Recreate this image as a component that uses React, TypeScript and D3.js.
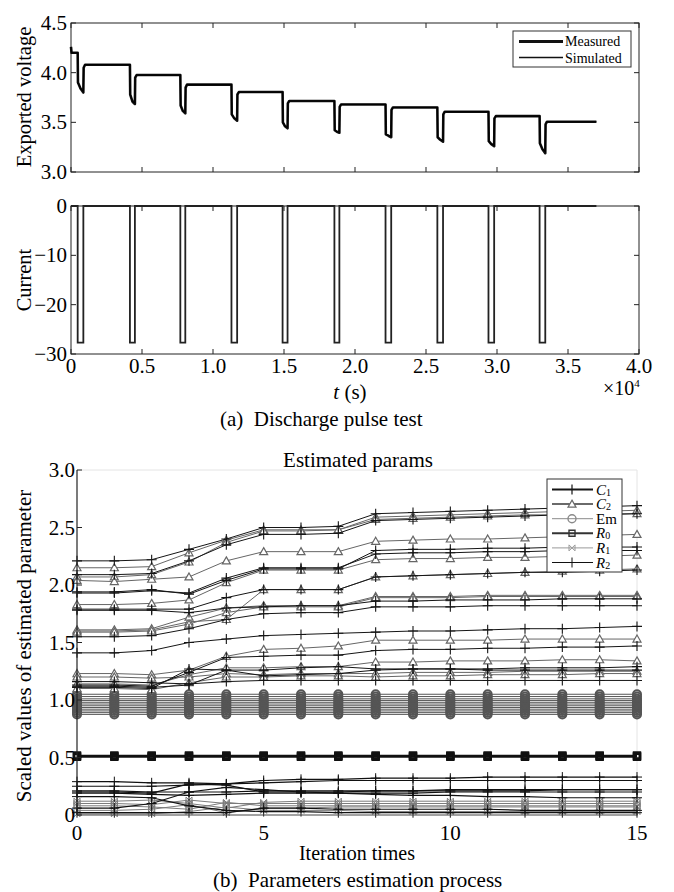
import * as d3 from 'd3';
import React, { useEffect, useRef } from 'react';

// (a) discharge pulse test -- time in units of 10^4 s
const pulseStart = [0.047, 0.415, 0.77, 1.13, 1.49, 1.855, 2.215, 2.58, 2.94, 3.30];
const pulseEnd = [0.087, 0.45, 0.805, 1.17, 1.525, 1.89, 2.255, 2.62, 2.98, 3.34];
const restV = [4.20, 4.08, 3.976, 3.88, 3.805, 3.715, 3.68, 3.65, 3.607, 3.563, 3.506];
const dropV = [3.90, 3.78, 3.67, 3.58, 3.50, 3.42, 3.38, 3.35, 3.31, 3.29];
const midV = [3.84, 3.71, 3.615, 3.54, 3.46, 3.405, 3.365, 3.325, 3.28, 3.23];
const minV = [3.80, 3.685, 3.59, 3.516, 3.44, 3.395, 3.35, 3.305, 3.26, 3.19];
const simMinV = [3.81, 3.695, 3.60, 3.525, 3.45, 3.40, 3.36, 3.315, 3.27, 3.205];
const recoverV = [4.05, 3.95, 3.85, 3.78, 3.69, 3.655, 3.625, 3.58, 3.54, 3.48];
const startSpike = 4.26;
const pulseCurrent = -27.7;
const testEnd = 3.7;
const timeTicks = [0, 0.5, 1.0, 1.5, 2.0, 2.5, 3.0, 3.5, 4.0];
const voltTicks = [3.0, 3.5, 4.0, 4.5];
const currentTicks = [0, -10, -20, -30];

// (b) parameters estimation process
const iterations = [0, 1, 2, 3, 4, 5, 6, 7, 8, 9, 10, 11, 12, 13, 14, 15];
const iterTicks = [0, 5, 10, 15];
const paramTicks = [0, 0.5, 1.0, 1.5, 2.0, 2.5, 3.0];

const c1Series = [
  [2.21, 2.21, 2.22, 2.31, 2.40, 2.50, 2.50, 2.51, 2.62, 2.63, 2.64, 2.65, 2.66, 2.67, 2.68, 2.69],
  [2.09, 2.09, 2.10, 2.21, 2.35, 2.44, 2.44, 2.45, 2.56, 2.57, 2.58, 2.59, 2.60, 2.61, 2.61, 2.62],
  [1.94, 1.94, 1.96, 1.92, 2.04, 2.14, 2.14, 2.14, 2.30, 2.31, 2.31, 2.32, 2.32, 2.33, 2.33, 2.33],
  [1.93, 1.93, 1.95, 1.93, 2.06, 2.15, 2.15, 2.15, 2.27, 2.28, 2.28, 2.29, 2.29, 2.30, 2.30, 2.30],
  [1.79, 1.79, 1.79, 1.79, 1.89, 1.96, 1.96, 1.96, 2.07, 2.08, 2.09, 2.10, 2.11, 2.11, 2.12, 2.13],
  [1.78, 1.78, 1.78, 1.76, 1.80, 1.81, 1.82, 1.82, 1.86, 1.86, 1.87, 1.87, 1.87, 1.88, 1.88, 1.88],
  [1.55, 1.55, 1.56, 1.62, 1.70, 1.75, 1.76, 1.76, 1.81, 1.81, 1.81, 1.82, 1.82, 1.82, 1.82, 1.82],
  [1.41, 1.41, 1.43, 1.50, 1.53, 1.56, 1.57, 1.58, 1.59, 1.60, 1.60, 1.61, 1.62, 1.62, 1.63, 1.64],
  [1.13, 1.13, 1.12, 1.24, 1.37, 1.38, 1.39, 1.39, 1.43, 1.44, 1.44, 1.45, 1.45, 1.46, 1.46, 1.47],
  [1.11, 1.11, 1.10, 1.27, 1.26, 1.26, 1.28, 1.29, 1.27, 1.27, 1.27, 1.26, 1.26, 1.26, 1.26, 1.26],
  [1.12, 1.12, 1.11, 1.13, 1.26, 1.21, 1.22, 1.23, 1.26, 1.27, 1.27, 1.27, 1.28, 1.28, 1.28, 1.29],
  [1.16, 1.16, 1.15, 1.14, 1.16, 1.17, 1.17, 1.17, 1.17, 1.17, 1.17, 1.17, 1.17, 1.17, 1.17, 1.17],
];
const c2Series = [
  [2.15, 2.15, 2.16, 2.28, 2.39, 2.48, 2.48, 2.48, 2.59, 2.60, 2.61, 2.62, 2.63, 2.64, 2.64, 2.65],
  [2.07, 2.07, 2.09, 2.20, 2.37, 2.47, 2.47, 2.48, 2.57, 2.58, 2.59, 2.60, 2.61, 2.61, 2.62, 2.62],
  [2.04, 2.03, 2.05, 2.07, 2.21, 2.29, 2.29, 2.29, 2.38, 2.39, 2.40, 2.40, 2.41, 2.42, 2.43, 2.44],
  [1.83, 1.83, 1.84, 1.87, 2.02, 2.13, 2.13, 2.13, 2.22, 2.23, 2.23, 2.24, 2.24, 2.25, 2.25, 2.26],
  [1.60, 1.60, 1.61, 1.68, 1.70, 1.96, 1.96, 1.96, 2.07, 2.08, 2.09, 2.10, 2.11, 2.12, 2.13, 2.14],
  [1.61, 1.61, 1.62, 1.72, 1.80, 1.82, 1.82, 1.82, 1.90, 1.90, 1.90, 1.91, 1.91, 1.91, 1.91, 1.91],
  [1.59, 1.59, 1.60, 1.66, 1.76, 1.81, 1.81, 1.81, 1.89, 1.89, 1.89, 1.90, 1.90, 1.90, 1.90, 1.90],
  [1.23, 1.23, 1.22, 1.26, 1.38, 1.44, 1.45, 1.47, 1.52, 1.52, 1.52, 1.52, 1.53, 1.53, 1.53, 1.53],
  [1.14, 1.14, 1.13, 1.22, 1.28, 1.28, 1.29, 1.29, 1.33, 1.33, 1.34, 1.34, 1.34, 1.35, 1.35, 1.34],
  [1.20, 1.20, 1.19, 1.20, 1.23, 1.22, 1.23, 1.23, 1.23, 1.24, 1.24, 1.24, 1.25, 1.25, 1.25, 1.25],
  [1.10, 1.10, 1.09, 1.15, 1.20, 1.20, 1.21, 1.21, 1.20, 1.21, 1.21, 1.22, 1.22, 1.22, 1.23, 1.23],
];
const emSeries = [
  [1.05, 1.05, 1.05, 1.05, 1.05, 1.05, 1.05, 1.05, 1.05, 1.05, 1.05, 1.05, 1.05, 1.05, 1.05, 1.05],
  [1.03, 1.03, 1.03, 1.03, 1.03, 1.03, 1.03, 1.03, 1.03, 1.03, 1.03, 1.03, 1.03, 1.03, 1.03, 1.03],
  [1.01, 1.01, 1.01, 1.01, 1.01, 1.01, 1.01, 1.01, 1.01, 1.01, 1.01, 1.01, 1.01, 1.01, 1.01, 1.01],
  [0.995, 0.995, 0.995, 0.995, 0.995, 0.995, 0.995, 0.995, 0.995, 0.995, 0.995, 0.995, 0.995, 0.995, 0.995, 0.995],
  [0.98, 0.98, 0.98, 0.98, 0.98, 0.98, 0.98, 0.98, 0.98, 0.98, 0.98, 0.98, 0.98, 0.98, 0.98, 0.98],
  [0.965, 0.965, 0.965, 0.965, 0.965, 0.965, 0.965, 0.965, 0.965, 0.965, 0.965, 0.965, 0.965, 0.965, 0.965, 0.965],
  [0.95, 0.95, 0.95, 0.95, 0.95, 0.95, 0.95, 0.95, 0.95, 0.95, 0.95, 0.95, 0.95, 0.95, 0.95, 0.95],
  [0.935, 0.935, 0.935, 0.935, 0.935, 0.935, 0.935, 0.935, 0.935, 0.935, 0.935, 0.935, 0.935, 0.935, 0.935, 0.935],
  [0.92, 0.92, 0.92, 0.92, 0.92, 0.92, 0.92, 0.92, 0.92, 0.92, 0.92, 0.92, 0.92, 0.92, 0.92, 0.92],
  [0.905, 0.905, 0.905, 0.905, 0.905, 0.905, 0.905, 0.905, 0.905, 0.905, 0.905, 0.905, 0.905, 0.905, 0.905, 0.905],
  [0.89, 0.89, 0.89, 0.89, 0.89, 0.89, 0.89, 0.89, 0.89, 0.89, 0.89, 0.89, 0.89, 0.89, 0.89, 0.89],
  [0.875, 0.875, 0.875, 0.875, 0.875, 0.875, 0.875, 0.875, 0.875, 0.875, 0.875, 0.875, 0.875, 0.875, 0.875, 0.875],
];
const r0Series = [
  [0.505, 0.505, 0.505, 0.505, 0.505, 0.505, 0.505, 0.505, 0.505, 0.505, 0.505, 0.505, 0.505, 0.505, 0.505, 0.505],
  [0.512, 0.512, 0.511, 0.512, 0.512, 0.512, 0.511, 0.512, 0.512, 0.512, 0.512, 0.512, 0.512, 0.512, 0.512, 0.512],
  [0.518, 0.518, 0.518, 0.518, 0.518, 0.518, 0.518, 0.518, 0.518, 0.518, 0.518, 0.518, 0.518, 0.518, 0.518, 0.518],
];
const r1Series = [
  [0.12, 0.12, 0.13, 0.10, 0.06, 0.11, 0.12, 0.12, 0.12, 0.12, 0.12, 0.12, 0.12, 0.12, 0.12, 0.12],
  [0.10, 0.10, 0.09, 0.13, 0.10, 0.10, 0.10, 0.10, 0.10, 0.10, 0.10, 0.10, 0.10, 0.10, 0.10, 0.10],
  [0.08, 0.08, 0.07, 0.05, 0.11, 0.08, 0.08, 0.08, 0.08, 0.08, 0.08, 0.08, 0.08, 0.08, 0.08, 0.08],
  [0.04, 0.04, 0.05, 0.09, 0.02, 0.06, 0.06, 0.07, 0.07, 0.07, 0.07, 0.07, 0.07, 0.07, 0.07, 0.07],
  [0.01, 0.01, 0.01, 0.03, 0.07, 0.04, 0.04, 0.04, 0.03, 0.03, 0.03, 0.03, 0.03, 0.03, 0.03, 0.03],
];
const r2Series = [
  [0.29, 0.29, 0.28, 0.28, 0.27, 0.30, 0.31, 0.31, 0.32, 0.32, 0.32, 0.33, 0.33, 0.33, 0.33, 0.33],
  [0.25, 0.25, 0.25, 0.26, 0.27, 0.28, 0.29, 0.30, 0.30, 0.30, 0.30, 0.30, 0.30, 0.30, 0.30, 0.30],
  [0.20, 0.20, 0.19, 0.27, 0.26, 0.20, 0.20, 0.20, 0.21, 0.21, 0.21, 0.21, 0.21, 0.22, 0.22, 0.22],
  [0.21, 0.21, 0.20, 0.20, 0.20, 0.21, 0.21, 0.21, 0.21, 0.21, 0.22, 0.22, 0.22, 0.22, 0.22, 0.22],
  [0.19, 0.19, 0.18, 0.17, 0.18, 0.19, 0.19, 0.19, 0.19, 0.19, 0.20, 0.20, 0.20, 0.20, 0.20, 0.20],
  [0.16, 0.16, 0.15, 0.08, 0.04, 0.03, 0.03, 0.02, 0.02, 0.02, 0.02, 0.02, 0.02, 0.02, 0.02, 0.02],
  [0.06, 0.06, 0.10, 0.20, 0.24, 0.22, 0.20, 0.19, 0.18, 0.17, 0.17, 0.16, 0.16, 0.15, 0.15, 0.15],
  [0.02, 0.02, 0.02, 0.02, 0.02, 0.06, 0.06, 0.05, 0.05, 0.05, 0.05, 0.05, 0.04, 0.04, 0.04, 0.04],
];

const FONT = "'Liberation Serif', 'Times New Roman', serif";

function markerPath(kind: string, s: number) {
  switch (kind) {
    case 'plus': return `M${-s},0H${s}M0,${-s}V${s}`;
    case 'tri': return `M0,${-s}L${s},${s * 0.75}L${-s},${s * 0.75}Z`;
    case 'square': return `M${-s},${-s}H${s}V${s}H${-s}Z`;
    case 'x': return `M${-s},${-s}L${s},${s}M${s},${-s}L${-s},${s}M${-s},${-s}V${s}M${s},${-s}V${s}`;
    default: return '';
  }
}

function drawMarker(g: any, kind: string, x: number, y: number, color: string, sw: number) {
  if (kind === 'circle') {
    g.append('circle').attr('cx', x).attr('cy', y).attr('r', 4)
      .attr('fill', 'none').attr('stroke', color).attr('stroke-width', sw);
    return;
  }
  const sizes: any = { plus: 5, tri: 4, square: 3, x: 3 };
  g.append('path').attr('d', markerPath(kind, sizes[kind]))
    .attr('transform', `translate(${x},${y})`)
    .attr('fill', kind === 'tri' ? '#fff' : 'none')
    .attr('stroke', color).attr('stroke-width', sw);
}

export default function App() {
  const svgRef = useRef(null);

  useEffect(() => {
    document.body.style.margin = '0';
    const svg = d3.select(svgRef.current);
    svg.selectAll('*').remove();

    // ---------------- (a) ----------------
    const x = d3.scaleLinear().domain([0, 4]).range([71, 639]);
    const yV = d3.scaleLinear().domain([3, 4.5]).range([172, 23]);
    const yI = d3.scaleLinear().domain([-30, 0]).range([354, 206]);

    // frames + ticks
    [[yV, voltTicks], [yI, currentTicks]].forEach(([ys, ticks]: any) => {
      const [b, t] = ys.range();
      svg.append('rect').attr('x', 71).attr('y', t).attr('width', 568).attr('height', b - t)
        .attr('fill', 'none').attr('stroke', '#222').attr('stroke-width', 1);
      timeTicks.forEach(v => {
        svg.append('line').attr('x1', x(v)).attr('x2', x(v)).attr('y1', b).attr('y2', b - 5).attr('stroke', '#222');
        svg.append('line').attr('x1', x(v)).attr('x2', x(v)).attr('y1', t).attr('y2', t + 5).attr('stroke', '#222');
      });
      ticks.forEach((v: number) => {
        svg.append('line').attr('x1', 71).attr('x2', 76).attr('y1', ys(v)).attr('y2', ys(v)).attr('stroke', '#222');
        svg.append('line').attr('x1', 639).attr('x2', 634).attr('y1', ys(v)).attr('y2', ys(v)).attr('stroke', '#222');
      });
    });

    voltTicks.forEach(v => {
      svg.append('text').attr('x', 67).attr('y', yV(v) + 7).attr('text-anchor', 'end')
        .attr('font-size', 21).text(d3.format('.1f')(v));
    });
    currentTicks.forEach(v => {
      svg.append('text').attr('x', 67).attr('y', yI(v) + 7).attr('text-anchor', 'end')
        .attr('font-size', 21).text(v === 0 ? '0' : '\u2212' + Math.abs(v));
    });
    timeTicks.forEach(v => {
      svg.append('text').attr('x', x(v)).attr('y', 373).attr('text-anchor', 'middle')
        .attr('font-size', 21).text(v === 0 ? '0' : d3.format('.1f')(v));
    });

    // voltage
    const voltagePts = (mins: number[]) => {
      const pts: [number, number][] = [[0, startSpike], [0.004, restV[0]]];
      pulseStart.forEach((s, i) => {
        const e = pulseEnd[i];
        pts.push([s, restV[i]]);
        pts.push([s + 0.002, dropV[i]]);
        pts.push([(s + e) / 2, midV[i]]);
        pts.push([e, mins[i]]);
        pts.push([e + 0.002, recoverV[i]]);
        pts.push([e + 0.012, restV[i + 1]]);
      });
      pts.push([testEnd, restV[restV.length - 1]]);
      return pts;
    };
    const lineV = d3.line<[number, number]>().x(d => x(d[0])).y(d => yV(d[1]));
    svg.append('path').attr('d', lineV(voltagePts(minV))).attr('fill', 'none')
      .attr('stroke', '#111').attr('stroke-width', 2.6).attr('stroke-linejoin', 'round');
    svg.append('path').attr('d', lineV(voltagePts(simMinV))).attr('fill', 'none')
      .attr('stroke', '#000').attr('stroke-width', 1.2);

    // current
    const currentPts: [number, number][] = [[0, 0]];
    pulseStart.forEach((s, i) => {
      currentPts.push([s, 0], [s, pulseCurrent], [pulseEnd[i], pulseCurrent], [pulseEnd[i], 0]);
    });
    currentPts.push([testEnd, 0]);
    const lineI = d3.line<[number, number]>().x(d => x(d[0])).y(d => yI(d[1]));
    svg.append('path').attr('d', lineI(currentPts)).attr('fill', 'none')
      .attr('stroke', '#222').attr('stroke-width', 1.8);

    // legend (a)
    const lg = svg.append('g');
    lg.append('rect').attr('x', 513).attr('y', 31).attr('width', 118).attr('height', 36)
      .attr('fill', '#fff').attr('stroke', '#333');
    lg.append('line').attr('x1', 519).attr('x2', 563).attr('y1', 41.5).attr('y2', 41.5).attr('stroke', '#111').attr('stroke-width', 3);
    lg.append('line').attr('x1', 519).attr('x2', 563).attr('y1', 57.5).attr('y2', 57.5).attr('stroke', '#111').attr('stroke-width', 1.5);
    lg.append('text').attr('x', 565).attr('y', 46).attr('font-size', 14).text('Measured');
    lg.append('text').attr('x', 565).attr('y', 62.5).attr('font-size', 14).text('Simulated');

    // labels (a)
    svg.append('text').attr('transform', 'translate(31,97) rotate(-90)').attr('text-anchor', 'middle')
      .attr('font-size', 20.5).text('Exported voltage');
    svg.append('text').attr('transform', 'translate(31,280) rotate(-90)').attr('text-anchor', 'middle')
      .attr('font-size', 20.5).text('Current');
    const tl = svg.append('text').attr('x', 350).attr('y', 399).attr('text-anchor', 'middle').attr('font-size', 21);
    tl.append('tspan').attr('font-style', 'italic').text('t');
    tl.append('tspan').text(' (s)');
    const mult = svg.append('text').attr('x', 603).attr('y', 395).attr('font-size', 20);
    mult.append('tspan').text('\u00d710');
    mult.append('tspan').attr('font-size', 11).attr('dy', -8).text('4');
    svg.append('text').attr('x', 220).attr('y', 426).attr('font-size', 21)
      .style('white-space', 'pre').text('(a)  Discharge pulse test');

    // ---------------- (b) ----------------
    const xb = d3.scaleLinear().domain([0, 15]).range([77, 637]);
    const yb = d3.scaleLinear().domain([0, 3]).range([815, 470]);

    svg.append('line').attr('x1', 77).attr('x2', 637).attr('y1', 470).attr('y2', 470).attr('stroke', '#e4e4e4');
    svg.append('line').attr('x1', 637).attr('x2', 637).attr('y1', 470).attr('y2', 815).attr('stroke', '#e4e4e4');

    const lineB = d3.line<number>().x((d, i) => xb(iterations[i])).y(d => yb(d));
    const groups = [
      { data: r1Series, color: '#7c7c7c', marker: 'x', width: 1, msw: 1 },
      { data: r2Series, color: '#111', marker: 'plus', width: 1.2, msw: 1 },
      { data: r0Series, color: '#111', marker: 'square', width: 1.6, msw: 2.4 },
      { data: emSeries, color: '#555', marker: 'circle', width: 1, msw: 2 },
      { data: c2Series, color: '#666', marker: 'tri', width: 1, msw: 1.2 },
      { data: c1Series, color: '#151515', marker: 'plus', width: 1, msw: 1.1 },
    ];
    const plot = svg.append('g');
    groups.forEach(gr => {
      gr.data.forEach(series => {
        plot.append('path').attr('d', lineB(series)).attr('fill', 'none')
          .attr('stroke', gr.color).attr('stroke-width', gr.width);
      });
      gr.data.forEach(series => {
        series.forEach((v, i) => drawMarker(plot, gr.marker, xb(iterations[i]), yb(v), gr.color, gr.msw));
      });
    });

    // axes (b)
    svg.append('line').attr('x1', 77).attr('x2', 77).attr('y1', 470).attr('y2', 815).attr('stroke', '#222').attr('stroke-width', 1.2);
    svg.append('line').attr('x1', 77).attr('x2', 637).attr('y1', 815).attr('y2', 815).attr('stroke', '#444').attr('stroke-width', 1);
    paramTicks.forEach(v => {
      svg.append('line').attr('x1', 77).attr('x2', 82).attr('y1', yb(v)).attr('y2', yb(v)).attr('stroke', '#222');
      svg.append('text').attr('x', 75).attr('y', yb(v) + 7).attr('text-anchor', 'end')
        .attr('font-size', 21).text(v === 0 ? '0' : d3.format('.1f')(v));
    });
    iterTicks.forEach(v => {
      svg.append('text').attr('x', xb(v)).attr('y', 840).attr('text-anchor', 'middle')
        .attr('font-size', 21).text(String(v));
    });

    // legend (b)
    const lb = svg.append('g');
    lb.append('rect').attr('x', 547).attr('y', 479).attr('width', 75).attr('height', 93)
      .attr('fill', '#fff').attr('stroke', '#333');
    const legendRows = [
      { base: 'C', sub: '1', italic: true, color: '#151515', width: 2, marker: 'plus', msw: 1.2 },
      { base: 'C', sub: '2', italic: true, color: '#6a6a6a', width: 2, marker: 'tri', msw: 1.2 },
      { base: 'Em', sub: '', italic: false, color: '#8a8a8a', width: 1, marker: 'circle', msw: 1.4 },
      { base: 'R', sub: '0', italic: true, color: '#333', width: 2, marker: 'square', msw: 1.4 },
      { base: 'R', sub: '1', italic: true, color: '#9a9a9a', width: 1, marker: 'x', msw: 1 },
      { base: 'R', sub: '2', italic: true, color: '#111', width: 1, marker: 'plus', msw: 1 },
    ];
    legendRows.forEach((r, i) => {
      const ly = 489.5 + i * 14.6;
      lb.append('line').attr('x1', 552).attr('x2', 593).attr('y1', ly).attr('y2', ly)
        .attr('stroke', r.color).attr('stroke-width', r.width);
      drawMarker(lb, r.marker, 572, ly, r.color, r.msw);
      const t = lb.append('text').attr('x', 596).attr('y', ly + 5).attr('font-size', 15);
      t.append('tspan').attr('font-style', r.italic ? 'italic' : 'normal').text(r.base);
      if (r.sub) t.append('tspan').attr('font-size', 10).attr('dy', 1).text(r.sub);
    });

    // labels (b)
    svg.append('text').attr('x', 358).attr('y', 467).attr('text-anchor', 'middle').attr('font-size', 21).text('Estimated params');
    svg.append('text').attr('transform', 'translate(31,646) rotate(-90)').attr('text-anchor', 'middle')
      .attr('font-size', 21).text('Scaled values of estimated parameter');
    svg.append('text').attr('x', 357).attr('y', 860).attr('text-anchor', 'middle').attr('font-size', 20).text('Iteration times');
    svg.append('text').attr('x', 213).attr('y', 887).attr('font-size', 21)
      .style('white-space', 'pre').text('(b)  Parameters estimation process');

    svg.selectAll('text').style('font-family', FONT);
  });

  return <svg ref={svgRef} width={674} height={892} style={{ display: 'block' }}></svg>;
}
